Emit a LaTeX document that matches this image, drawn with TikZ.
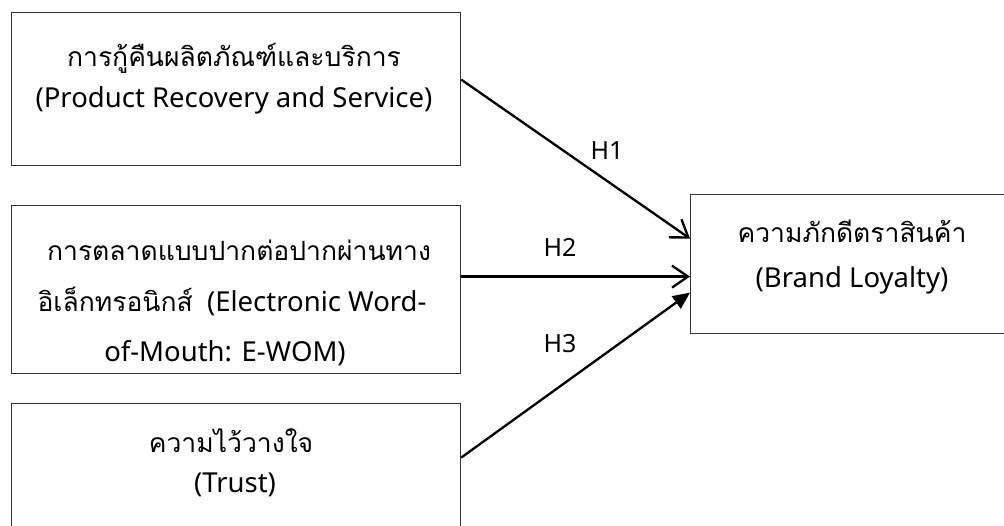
\documentclass[tikz,border=0pt]{standalone}
\usepackage{fontspec}
\setmainfont{Noto Sans}
\newfontfamily\thaifont[Script=Thai]{Loma}
\usetikzlibrary{arrows.meta,calc}
\tikzset{
  box/.style={draw=black!80, line width=1.2pt, minimum width=449pt, minimum height=#1, anchor=north west, inner sep=0pt},
  txt/.style={anchor=base, inner sep=0pt, font=\fontsize{27.5}{30}\selectfont},
  thtxt/.style={anchor=base, inner sep=0pt, font=\thaifont\fontsize{26.5}{30}\selectfont},
  hlab/.style={anchor=base, inner sep=0pt, font=\fontsize{25}{28}\selectfont},
  openarr/.style={line width=2.3pt, -{Straight Barb[length=16pt, width=22pt, line width=2.3pt]}},
  filledarr/.style={line width=2.3pt, -{Triangle[length=17pt, width=15pt]}}
}
\begin{document}
\begin{tikzpicture}[x=1pt,y=-1pt]
\useasboundingbox (0,0) rectangle (1004,526);
\clip (0,0) rectangle (1004,526);
\fill[white] (0,0) rectangle (1004,526);
% boxes
\node[box=153pt] (b1) at (11,12) {};
\node[box=168pt] (b2) at (11,205) {};
\node[box=126pt] (b3) at (11,403) {};
\node[draw=black!80, line width=1.2pt, minimum width=322pt, minimum height=139pt, anchor=north west, inner sep=0pt] (b4) at (690,194) {};
% texts
\node[thtxt] (t1a) at (234,67) {การกู้คืนผลิตภัณฑ์และบริการ};
\node[txt] (t1b) at (234,108) {(Product Recovery and Service)};
\node[thtxt] (t2a) at (239,261) {การตลาดแบบปากต่อปากผ่านทาง};
\node[txt] (t2b) at (232,312) {{\thaifont\fontsize{26.5}{30}\selectfont อิเล็กทรอนิกส์}~ (Electronic Word-};
\node[txt] (t2c) at (225,362) {of-Mouth: E-WOM)};
\node[thtxt] (t3a) at (231,452) {ความไว้วางใจ};
\node[txt] (t3b) at (235,492) {(Trust)};
\node[thtxt] (t4a) at (852,243) {ความภักดีตราสินค้า};
\node[txt] (t4b) at (852,288) {(Brand Loyalty)};
% connectors
\draw[openarr] ($(b1.east)+(0,-9.5)$) -- ($(b4.west)+(0,-25.5)$);
\draw[openarr] ($(b2.east)+(0,-13)$) -- ($(b4.west)+(0,12.5)$);
\draw[filledarr] ($(b3.east)+(0,-9)$) -- ($(b4.west)+(0,28.5)$);
% labels
\node[hlab] (h1) at (607,160) {H1};
\node[hlab] (h2) at (560,257) {H2};
\node[hlab] (h3) at (560,353) {H3};
\end{tikzpicture}
\end{document}
